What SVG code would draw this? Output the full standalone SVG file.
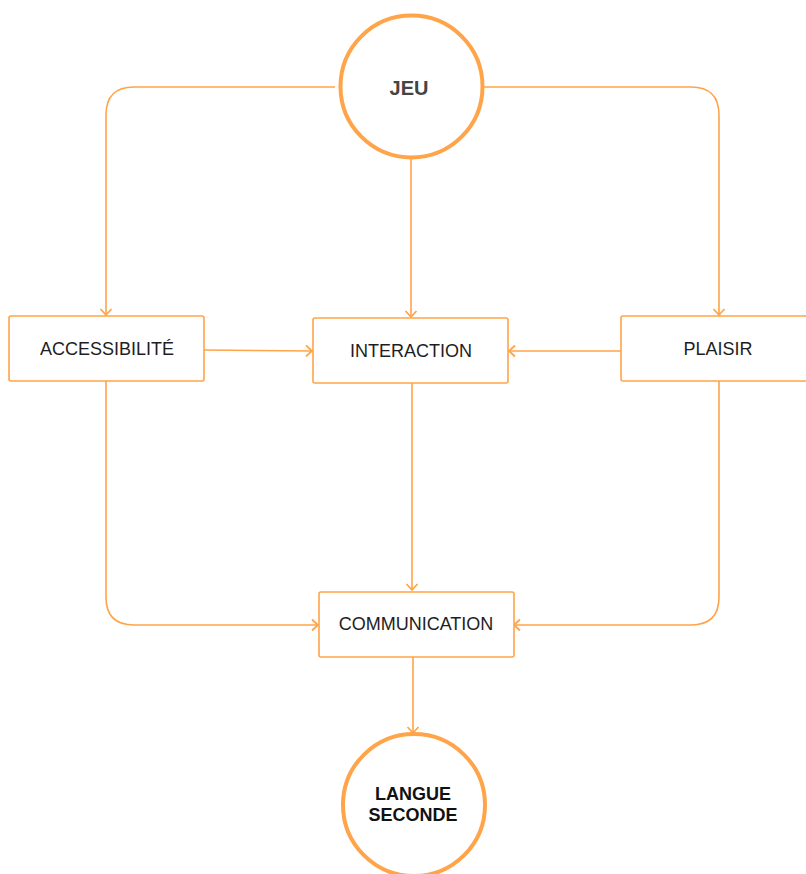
<svg xmlns="http://www.w3.org/2000/svg" width="806" height="874" viewBox="0 0 806 874">
<defs>
<style>
.c{fill:#fff;stroke:#FFA448;stroke-width:4}
.b{fill:#fff;stroke:#FFA448;stroke-width:1.6}
.l{fill:none;stroke:#FFA448;stroke-width:1.6}
.t{font-family:"Liberation Sans",Arial,sans-serif;font-size:18px;fill:#1e1e1e;text-anchor:middle}
.tb{font-family:"Liberation Sans",Arial,sans-serif;font-weight:bold;text-anchor:middle}
</style>
<marker id="a" markerWidth="14" markerHeight="14" refX="10" refY="7" orient="auto" markerUnits="userSpaceOnUse">
<path d="M4,1.5 L10,7 L4,12.5" fill="none" stroke="#FFA448" stroke-width="1.8"/>
</marker>
</defs>
<rect width="806" height="874" fill="#fff"/>
<g id="connectors">
<path class="l" d="M335,87 H134 Q106,87 106,115 V315" marker-end="url(#a)"/>
<path class="l" d="M484,87 H691 Q719,87 719,115 V315" marker-end="url(#a)"/>
<path class="l" d="M411,158 V317" marker-end="url(#a)"/>
<path class="l" d="M204,350 L312,351" marker-end="url(#a)"/>
<path class="l" d="M621,351 L509,351" marker-end="url(#a)"/>
<path class="l" d="M412,383 V590" marker-end="url(#a)"/>
<path class="l" d="M106,381 V597 Q106,625 134,625 H318" marker-end="url(#a)"/>
<path class="l" d="M719,381 V597 Q719,625 691,625 H514" marker-end="url(#a)"/>
<path class="l" d="M413,657 V733" marker-end="url(#a)"/>
</g>
<g id="jeu">
<circle class="c" cx="411.5" cy="86.5" r="71"/>
<text class="tb" x="409" y="95" font-size="20" fill="#444">JEU</text>
</g>
<g id="accessibilite">
<rect class="b" x="9" y="316" width="195" height="65" rx="2"/>
<text class="t" x="107" y="355">ACCESSIBILITÉ</text>
</g>
<g id="interaction">
<rect class="b" x="313" y="318" width="195" height="65" rx="2"/>
<text class="t" x="411" y="357">INTERACTION</text>
</g>
<g id="plaisir">
<rect class="b" x="621" y="316" width="195" height="65" rx="2"/>
<text class="t" x="718" y="355">PLAISIR</text>
</g>
<g id="communication">
<rect class="b" x="319" y="592" width="195" height="65" rx="2"/>
<text class="t" x="416" y="630">COMMUNICATION</text>
</g>
<g id="langue-seconde">
<circle class="c" cx="414" cy="805" r="71"/>
<text class="tb" font-size="18" fill="#111" x="413" y="800">LANGUE</text>
<text class="tb" font-size="18" fill="#111" x="413" y="821">SECONDE</text>
</g>
</svg>
